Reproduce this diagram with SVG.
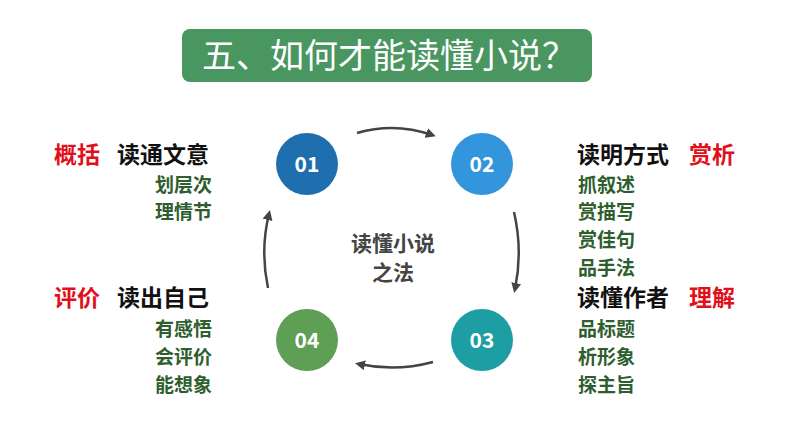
<svg xmlns="http://www.w3.org/2000/svg" width="794" height="447" viewBox="0 0 794 447">
<defs>
<style>
text{font-family:"Noto Sans CJK SC","Noto Sans",sans-serif;font-weight:bold}
.h{font-size:23px;fill:#111}
.r{font-size:23px;fill:#e0101a}
.s{font-size:19px;fill:#2e5e2e}
.n{font-size:21px;fill:#fff;text-anchor:middle}
.c{font-size:21px;fill:#444;text-anchor:middle}
.a{fill:none;stroke:#444;stroke-width:2.5;marker-end:url(#m)}
</style>
<marker id="m" viewBox="0 0 10 10" refX="6" refY="5" markerWidth="4" markerHeight="4" orient="auto"><path d="M0 0L10 5L0 10z" fill="#444"/></marker>
</defs>
<rect width="794" height="447" fill="#fff"/>
<g id="title"><rect x="182" y="29" width="410" height="53" rx="8" fill="#4a9660"/>
<text x="389" y="68" text-anchor="middle" style="font-size:34px;font-weight:normal;fill:#fff">五、如何才能读懂小说？</text></g>
<g id="n01"><circle cx="307" cy="164" r="31" fill="#1f6fae"/><text class="n" x="307" y="172">01</text></g>
<g id="n02"><circle cx="482" cy="164" r="31" fill="#3396dc"/><text class="n" x="482" y="172">02</text></g>
<g id="n03"><circle cx="482" cy="340" r="31" fill="#1c9ea3"/><text class="n" x="482" y="348">03</text></g>
<g id="n04"><circle cx="307" cy="340" r="31" fill="#5e9e55"/><text class="n" x="307" y="348">04</text></g>
<g id="connectors">
<path class="a" d="M357 133Q395 122 432 135"/>
<path class="a" d="M514 212Q523 251 515 289"/>
<path class="a" d="M433 362Q396 372 359 364"/>
<path class="a" d="M268 288Q260 250 269 214"/>
</g>
<g id="center"><text class="c" x="393" y="251">读懂小说</text><text class="c" x="393" y="280">之法</text></g>
<g id="left1"><text class="r" x="54" y="163">概括</text><text class="h" x="117" y="163">读通文意</text>
<text class="s" x="155" y="192">划层次</text><text class="s" x="155" y="219">理情节</text></g>
<g id="left2"><text class="r" x="54" y="306">评价</text><text class="h" x="117" y="306">读出自己</text>
<text class="s" x="155" y="336">有感悟</text><text class="s" x="155" y="364">会评价</text><text class="s" x="155" y="392">能想象</text></g>
<g id="right1"><text class="h" x="577" y="163">读明方式</text><text class="r" x="689" y="163">赏析</text>
<text class="s" x="578" y="192">抓叙述</text><text class="s" x="578" y="219">赏描写</text><text class="s" x="578" y="247">赏佳句</text><text class="s" x="578" y="275">品手法</text></g>
<g id="right2"><text class="h" x="577" y="306">读懂作者</text><text class="r" x="689" y="306">理解</text>
<text class="s" x="578" y="336">品标题</text><text class="s" x="578" y="364">析形象</text><text class="s" x="578" y="392">探主旨</text></g>
</svg>
